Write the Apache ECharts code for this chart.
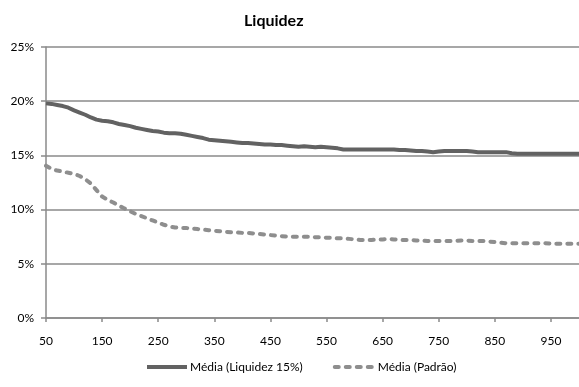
<!DOCTYPE html>
<html>
<head>
<meta charset="utf-8">
<script src="https://cdn.jsdelivr.net/npm/echarts@6/dist/echarts.min.js"></script>
<style>
  html, body { margin: 0; padding: 0; background: #fff; }
  #chart { width: 579px; height: 387px; }
</style>
</head>
<body>
<div id="chart"></div>
<script>
// Number of periods (x axis), step 10
const periods = [50,60,70,80,90,100,110,120,130,140,150,160,170,180,190,200,210,220,230,240,
  250,260,270,280,290,300,310,320,330,340,350,360,370,380,390,400,410,420,430,440,
  450,460,470,480,490,500,510,520,530,540,550,560,570,580,590,600,610,620,630,640,
  650,660,670,680,690,700,710,720,730,740,750,760,770,780,790,800,810,820,830,840,
  850,860,870,880,890,900,910,920,930,940,950,960,970,980,990,1000];

// Média (Liquidez 15%), in percent
const mediaLiquidez = [19.8,19.75,19.65,19.55,19.4,19.15,18.95,18.75,18.5,18.3,
  18.2,18.15,18.05,17.9,17.8,17.7,17.55,17.45,17.35,17.25,
  17.2,17.1,17.05,17.05,17.0,16.9,16.8,16.7,16.6,16.45,
  16.4,16.35,16.3,16.25,16.2,16.15,16.15,16.1,16.05,16.0,
  16.0,15.95,15.95,15.9,15.85,15.8,15.85,15.8,15.75,15.8,
  15.75,15.7,15.65,15.55,15.55,15.55,15.55,15.55,15.55,15.55,
  15.55,15.55,15.55,15.5,15.5,15.45,15.4,15.4,15.35,15.3,
  15.35,15.4,15.4,15.4,15.4,15.4,15.35,15.3,15.3,15.3,
  15.3,15.3,15.3,15.2,15.15,15.15,15.15,15.15,15.15,15.15,
  15.15,15.15,15.15,15.15,15.15,15.15];

// Média (Padrão), in percent
const mediaPadrao = [14.05,13.75,13.6,13.5,13.4,13.3,13.1,12.8,12.4,11.8,
  11.2,10.9,10.65,10.35,10.1,9.85,9.6,9.4,9.2,9.0,
  8.8,8.6,8.45,8.35,8.3,8.3,8.25,8.2,8.15,8.1,
  8.05,8.0,7.95,7.9,7.9,7.85,7.85,7.8,7.75,7.7,
  7.65,7.6,7.55,7.5,7.5,7.5,7.5,7.5,7.45,7.45,
  7.4,7.4,7.35,7.35,7.3,7.25,7.2,7.2,7.2,7.25,
  7.25,7.3,7.25,7.2,7.2,7.2,7.15,7.15,7.1,7.1,
  7.1,7.1,7.1,7.1,7.15,7.15,7.1,7.1,7.1,7.05,
  7.0,6.95,6.9,6.9,6.9,6.9,6.9,6.9,6.9,6.9,
  6.85,6.85,6.85,6.85,6.85,6.85];

const yTicks = [0, 5, 10, 15, 20, 25];

const FONT = 'Lato, "Liberation Sans", sans-serif';
const chart = echarts.init(document.getElementById('chart'), null, { renderer: 'canvas' });

chart.setOption({
  animation: false,
  backgroundColor: '#ffffff',
  title: {
    text: 'Liquidez',
    left: 239,
    top: 8,
    textStyle: { fontFamily: FONT, fontSize: 16, fontWeight: 'bold', color: '#000' }
  },
  grid: { left: 46, right: -2, top: 47, bottom: 69, containLabel: false },
  legend: {
    top: 356,
    left: 140,
    itemWidth: 40,
    itemHeight: 10,
    itemGap: 30,
    itemStyle: { opacity: 0 },
    lineStyle: { width: 4 },
    textStyle: { fontFamily: FONT, fontSize: 12, color: '#000', padding: [0, 0, 0, -2] },
    data: ['Média (Liquidez 15%)', 'Média (Padrão)']
  },
  xAxis: {
    type: 'category',
    data: periods,
    boundaryGap: false,
    axisLine: { lineStyle: { color: '#8a8a8a', width: 1.5 } },
    axisTick: { show: true, interval: 9, length: 4, lineStyle: { color: '#8a8a8a', width: 1.5 } },
    axisLabel: { interval: 9, margin: 17, fontFamily: FONT, fontSize: 12, color: '#000' },
    splitLine: { show: false }
  },
  yAxis: {
    type: 'value',
    min: yTicks[0],
    max: yTicks[yTicks.length - 1],
    interval: 5,
    axisLine: { show: true, lineStyle: { color: '#8a8a8a', width: 1.5 } },
    axisTick: { show: true, length: 5, lineStyle: { color: '#8a8a8a', width: 1.5 } },
    axisLabel: { formatter: '{value}%', margin: 12, fontFamily: FONT, fontSize: 12, color: '#000' },
    splitLine: { show: true, lineStyle: { color: '#8a8a8a', width: 1.5 } }
  },
  series: [
    {
      name: 'Média (Liquidez 15%)',
      type: 'line',
      data: mediaLiquidez,
      showSymbol: false,
      symbol: 'none',
      color: '#626262',
      lineStyle: { color: '#626262', width: 4 }
    },
    {
      name: 'Média (Padrão)',
      type: 'line',
      data: mediaPadrao,
      showSymbol: false,
      symbol: 'none',
      color: '#8e8e8e',
      lineStyle: { color: '#8e8e8e', width: 4, type: [4, 7], cap: 'round' }
    }
  ]
});
</script>
</body>
</html>
